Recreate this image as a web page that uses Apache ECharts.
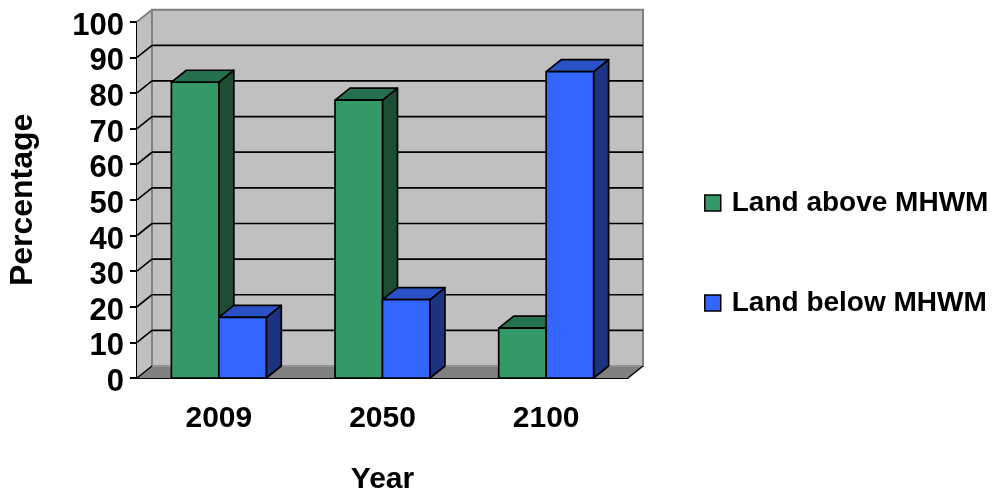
<!DOCTYPE html>
<html>
<head>
<meta charset="utf-8">
<script src="https://cdn.jsdelivr.net/npm/echarts@6/dist/echarts.min.js"></script>
<style>
  html, body { margin: 0; padding: 0; background: #ffffff; }
  #chart { width: 998px; height: 500px; }
</style>
</head>
<body>
<div id="chart"></div>
<script>
// Share of land above / below mean high water mark, by year
const categories = ['2009', '2050', '2100'];
const landAbove = [83, 78, 14];
const landBelow = [17, 22, 86];
const yTicks = [0, 10, 20, 30, 40, 50, 60, 70, 80, 90, 100];

const seriesNames = ['Land above MHWM', 'Land below MHWM'];

// Depth of the 3D box (pixels, toward upper right)
const DX = 15;
const DY = 12;
const FONT = '"Liberation Sans", Arial, sans-serif';

const palette = {
  above: { front: '#339966', top: '#25704f', side: '#1d4d33' },
  below: { front: '#3366ff', top: '#2a52c6', side: '#1b3381' }
};

// Back wall, side wall, floor and gridlines
function renderWalls(params, api) {
  const cs = params.coordSys;
  const v = api.value(0);
  const y = api.coord([0, v])[1];
  const gx = cs.x, gw = cs.width;
  const children = [];
  if (v === 0) {
    const yTop = api.coord([0, 100])[1];
    children.push({
      type: 'polygon',
      shape: { points: [[gx, yTop], [gx + DX, yTop - DY], [gx + DX, y - DY], [gx, y]] },
      style: { fill: '#c0c0c0', stroke: null }
    });
    children.push({
      type: 'rect',
      shape: { x: gx + DX, y: yTop - DY, width: gw, height: y - yTop },
      style: { fill: '#c0c0c0', stroke: '#808080', lineWidth: 2 }
    });
    children.push({
      type: 'polygon',
      shape: { points: [[gx, y], [gx + gw, y], [gx + gw + DX, y - DY], [gx + DX, y - DY]] },
      style: { fill: '#808080', stroke: null }
    });
    children.push({
      type: 'line',
      shape: { x1: gx + DX, y1: y - DY, x2: gx + gw + DX, y2: y - DY },
      style: { stroke: '#9a9a9a', lineWidth: 1.5 }
    });
    children.push({
      type: 'line',
      shape: { x1: gx + gw, y1: y, x2: gx + gw + DX, y2: y - DY },
      style: { stroke: '#000000', lineWidth: 1.5 }
    });
    children.push({
      type: 'line',
      shape: { x1: gx, y1: y, x2: gx + DX, y2: y - DY },
      style: { stroke: '#000000', lineWidth: 1.5 }
    });
  } else if (v === 100) {
    children.push({
      type: 'line',
      shape: { x1: gx, y1: y, x2: gx + DX, y2: y - DY },
      style: { stroke: '#808080', lineWidth: 2 }
    });
  } else {
    children.push({
      type: 'line',
      shape: { x1: gx + DX, y1: y - DY, x2: gx + gw + DX, y2: y - DY },
      style: { stroke: '#000000', lineWidth: 1.7 }
    });
    children.push({
      type: 'line',
      shape: { x1: gx, y1: y, x2: gx + DX, y2: y - DY },
      style: { stroke: '#000000', lineWidth: 1.7 }
    });
  }
  return { type: 'group', children: children };
}

// 3D column: front face, top face and right side face
function makeBarRenderer(colors, leftOfCenter) {
  return function (params, api) {
    const cat = api.value(0);
    const val = api.value(1);
    const base = api.coord([cat, 0]);
    const top = api.coord([cat, val]);
    const w = api.size([1, 0])[0] * 0.29;
    const x0 = leftOfCenter ? base[0] - w : base[0];
    const x1 = x0 + w;
    const y0 = base[1];
    const y1 = top[1];
    const edge = { stroke: '#000000', lineWidth: 1.7, lineJoin: 'round' };
    return {
      type: 'group',
      children: [
        {
          type: 'polygon',
          shape: { points: [[x1, y1], [x1 + DX, y1 - DY], [x1 + DX, y0 - DY], [x1, y0]] },
          style: Object.assign({ fill: colors.side }, edge)
        },
        {
          type: 'polygon',
          shape: { points: [[x0, y1], [x0 + DX, y1 - DY], [x1 + DX, y1 - DY], [x1, y1]] },
          style: Object.assign({ fill: colors.top }, edge)
        },
        {
          type: 'rect',
          shape: { x: x0, y: y1, width: w, height: y0 - y1 },
          style: Object.assign({ fill: colors.front }, edge)
        }
      ]
    };
  };
}

const chart = echarts.init(document.getElementById('chart'), null, { renderer: 'canvas' });

chart.setOption({
  animation: false,
  backgroundColor: '#ffffff',
  grid: { left: 137, right: 370, top: 21.7, bottom: 118.3, containLabel: false },
  legend: {
    orient: 'vertical',
    left: 699,
    top: 183,
    itemWidth: 16,
    itemHeight: 16,
    itemGap: 70,
    selectedMode: false,
    textStyle: {
      fontFamily: FONT, fontWeight: 'bold', fontSize: 28, color: '#000000',
      lineHeight: 30, padding: [0, 0, 0, 6]
    },
    data: [
      { name: seriesNames[0], icon: 'rect',
        itemStyle: { color: palette.above.front, borderColor: '#000000', borderWidth: 1.5 } },
      { name: seriesNames[1], icon: 'rect',
        itemStyle: { color: palette.below.front, borderColor: '#000000', borderWidth: 1.5 } }
    ]
  },
  xAxis: {
    type: 'category',
    data: categories,
    name: 'Year',
    nameLocation: 'middle',
    nameGap: 87,
    nameTextStyle: { fontFamily: FONT, fontWeight: 'bold', fontSize: 30, color: '#000000' },
    axisLine: { lineStyle: { color: '#000000', width: 2 } },
    axisTick: { length: 7, lineStyle: { color: '#000000', width: 2 } },
    axisLabel: { margin: 26, fontFamily: FONT, fontWeight: 'bold', fontSize: 30, color: '#000000' },
    splitLine: { show: false }
  },
  yAxis: {
    type: 'value',
    min: 0,
    max: 100,
    interval: 10,
    name: 'Percentage',
    nameLocation: 'middle',
    nameGap: 98,
    nameTextStyle: { fontFamily: FONT, fontWeight: 'bold', fontSize: 32, color: '#000000' },
    axisLine: { show: true, lineStyle: { color: '#000000', width: 2 } },
    axisTick: { show: true, length: 7, lineStyle: { color: '#000000', width: 2 } },
    axisLabel: {
      margin: 13,
      formatter: function (v) { return '{t|' + v + '}'; },
      rich: {
        t: {
          fontFamily: FONT, fontWeight: 'bold', fontSize: 31, color: '#000000',
          padding: [9, 0, 0, 0]
        }
      }
    },
    splitLine: { show: false }
  },
  series: [
    {
      type: 'custom',
      name: 'walls',
      silent: true,
      z: 1,
      renderItem: renderWalls,
      encode: { y: 0 },
      data: yTicks.map(function (v) { return [v]; })
    },
    {
      type: 'custom',
      name: seriesNames[0],
      z: 2,
      itemStyle: { color: palette.above.front },
      renderItem: makeBarRenderer(palette.above, true),
      encode: { x: 0, y: 1 },
      data: categories.map(function (c, i) { return [i, landAbove[i]]; })
    },
    {
      type: 'custom',
      name: seriesNames[1],
      z: 3,
      itemStyle: { color: palette.below.front },
      renderItem: makeBarRenderer(palette.below, false),
      encode: { x: 0, y: 1 },
      data: categories.map(function (c, i) { return [i, landBelow[i]]; })
    }
  ]
});
</script>
</body>
</html>
